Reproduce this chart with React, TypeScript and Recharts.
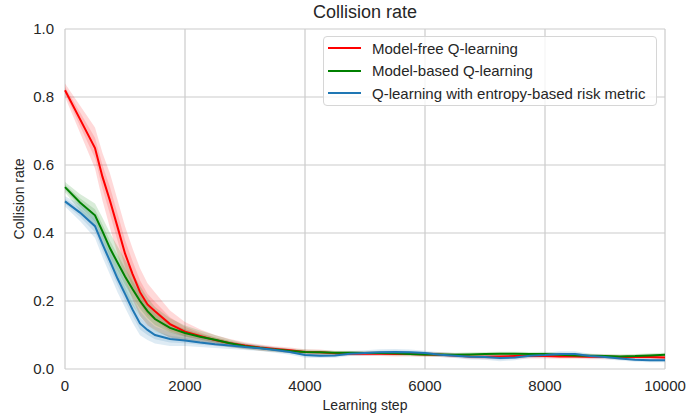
import { ComposedChart, Line, Area, XAxis, YAxis, CartesianGrid } from "recharts";

const FONT = '"Liberation Sans", Arial, sans-serif';
const TEXT = "#262626";

const steps = [
  0, 250, 500, 625, 750, 875, 1000, 1125, 1250, 1375, 1500, 1750, 2000, 2250,
  2500, 2750, 3000, 3250, 3500, 3750, 4000, 4250, 4500, 4750, 5000, 5250, 5500,
  5750, 6000, 6250, 6500, 6750, 7000, 7250, 7500, 7750, 8000, 8250, 8500, 8750,
  9000, 9250, 9500, 9750, 10000,
];

// mean curves
const modelFree = [
  0.82, 0.735, 0.65, 0.565, 0.495, 0.418, 0.34, 0.28, 0.226, 0.19, 0.17, 0.132,
  0.11, 0.097, 0.085, 0.076, 0.069, 0.063, 0.059, 0.055, 0.05, 0.049, 0.046,
  0.045, 0.045, 0.045, 0.044, 0.044, 0.043, 0.042, 0.04, 0.037, 0.036, 0.037,
  0.038, 0.038, 0.038, 0.037, 0.037, 0.036, 0.036, 0.035, 0.035, 0.035, 0.034,
];
const modelBased = [
  0.535, 0.49, 0.452, 0.405, 0.355, 0.313, 0.272, 0.235, 0.2, 0.17, 0.147,
  0.121, 0.106, 0.095, 0.086, 0.076, 0.067, 0.062, 0.057, 0.053, 0.05, 0.049,
  0.048, 0.048, 0.047, 0.047, 0.046, 0.044, 0.043, 0.043, 0.042, 0.043, 0.044,
  0.045, 0.045, 0.044, 0.044, 0.042, 0.04, 0.039, 0.038, 0.037, 0.038, 0.04,
  0.042,
];
const entropyRisk = [
  0.493, 0.46, 0.42, 0.367, 0.317, 0.266, 0.221, 0.175, 0.134, 0.115, 0.1,
  0.088, 0.084, 0.078, 0.073, 0.069, 0.065, 0.061, 0.056, 0.05, 0.041, 0.039,
  0.04, 0.045, 0.047, 0.049, 0.05, 0.049, 0.047, 0.042, 0.039, 0.036, 0.035,
  0.032, 0.034, 0.039, 0.041, 0.044, 0.044, 0.038, 0.035, 0.031, 0.027, 0.026,
  0.026,
];

// half-width of the shaded band
const modelFreeSpread = [
  0.02, 0.04, 0.06, 0.07, 0.08, 0.08, 0.08, 0.075, 0.07, 0.062, 0.055, 0.04,
  0.028, 0.02, 0.015, 0.012, 0.01, 0.009, 0.008, 0.008, 0.008, 0.008, 0.007,
  0.007, 0.007, 0.007, 0.007, 0.007, 0.007, 0.007, 0.007, 0.007, 0.007, 0.007,
  0.007, 0.007, 0.007, 0.007, 0.007, 0.007, 0.007, 0.007, 0.007, 0.007, 0.007,
];
const modelBasedSpread = [
  0.015, 0.025, 0.035, 0.04, 0.045, 0.048, 0.05, 0.048, 0.045, 0.04, 0.035,
  0.028, 0.022, 0.018, 0.014, 0.011, 0.009, 0.008, 0.007, 0.007, 0.007, 0.007,
  0.006, 0.006, 0.006, 0.006, 0.006, 0.006, 0.006, 0.006, 0.006, 0.006, 0.006,
  0.006, 0.006, 0.006, 0.007, 0.006, 0.006, 0.006, 0.006, 0.006, 0.006, 0.006,
  0.006,
];
const entropyRiskSpread = [
  0.015, 0.025, 0.035, 0.038, 0.04, 0.04, 0.04, 0.038, 0.035, 0.03, 0.025,
  0.02, 0.016, 0.013, 0.011, 0.01, 0.009, 0.008, 0.008, 0.008, 0.008, 0.007,
  0.007, 0.007, 0.008, 0.009, 0.009, 0.008, 0.007, 0.007, 0.007, 0.008, 0.008,
  0.009, 0.008, 0.007, 0.007, 0.008, 0.008, 0.007, 0.006, 0.006, 0.006, 0.006,
  0.006,
];

const series = [
  { key: "mf", name: "Model-free Q-learning", color: "#ff0000", mean: modelFree, spread: modelFreeSpread },
  { key: "mb", name: "Model-based Q-learning", color: "#008000", mean: modelBased, spread: modelBasedSpread },
  { key: "er", name: "Q-learning with entropy-based risk metric", color: "#1f77b4", mean: entropyRisk, spread: entropyRiskSpread },
];

const xTicks = [0, 2000, 4000, 6000, 8000, 10000];
const yTicks = [0, 0.2, 0.4, 0.6, 0.8, 1.0];

const data = steps.map((step, i) => {
  const row: Record<string, any> = { step };
  series.forEach((s) => {
    const m = s.mean[i];
    const d = s.spread[i];
    row[s.key] = m;
    row[s.key + "Outer"] = [m - d, m + d];
    row[s.key + "Inner"] = [m - d / 2, m + d / 2];
  });
  return row;
});

export default function App() {
  return (
    <div style={{ position: "absolute", left: 0, top: 0, width: 686, height: 420, background: "#fff", fontFamily: FONT }}>
      <ComposedChart width={686} height={420} data={data} margin={{ top: 29, right: 21, bottom: 21, left: 0 }}>
        <CartesianGrid stroke="#cccccc" strokeWidth={1.2} />
        <XAxis
          dataKey="step"
          type="number"
          domain={[0, 10000]}
          ticks={xTicks}
          axisLine={false}
          tickLine={false}
          tickMargin={5}
          height={30}
          tick={{ fill: TEXT, fontSize: 15, fontFamily: FONT }}
        />
        <YAxis
          type="number"
          domain={[0, 1]}
          ticks={yTicks}
          tickFormatter={(v: number) => v.toFixed(1)}
          axisLine={false}
          tickLine={false}
          tickMargin={5}
          width={65}
          tick={{ fill: TEXT, fontSize: 15, fontFamily: FONT }}
        />
        {series.flatMap((s) => [
          <Area
            key={s.key + "o"}
            dataKey={s.key + "Outer"}
            type="linear"
            stroke="none"
            fill={s.color}
            fillOpacity={0.15}
            isAnimationActive={false}
          />,
          <Area
            key={s.key + "i"}
            dataKey={s.key + "Inner"}
            type="linear"
            stroke="none"
            fill={s.color}
            fillOpacity={0.15}
            isAnimationActive={false}
          />,
          <Line
            key={s.key}
            dataKey={s.key}
            type="linear"
            stroke={s.color}
            strokeWidth={2}
            dot={false}
            isAnimationActive={false}
          />,
        ])}
      </ComposedChart>

      <div style={{ position: "absolute", left: 0, width: 730, top: 0, textAlign: "center", fontSize: 18, color: TEXT, lineHeight: "24px" }}>
        Collision rate
      </div>
      <div style={{ position: "absolute", left: 0, width: 730, top: 396, textAlign: "center", fontSize: 14, color: TEXT, lineHeight: "18px" }}>
        Learning step
      </div>
      <div
        style={{
          position: "absolute",
          left: 19,
          top: 199,
          transform: "translate(-50%, -50%) rotate(-90deg)",
          whiteSpace: "nowrap",
          fontSize: 14,
          color: TEXT,
        }}
      >
        Collision rate
      </div>

      <div
        style={{
          position: "absolute",
          left: 323,
          top: 36,
          width: 332,
          height: 68,
          border: "1px solid #d6d6d6",
          borderRadius: 4,
          background: "rgba(255,255,255,0.8)",
        }}
      >
        {series.map((s, i) => (
          <div key={s.key} style={{ position: "absolute", left: 4, top: 11 + i * 22.5 - 10, height: 20, display: "flex", alignItems: "center" }}>
            <div style={{ width: 33, height: 2, background: s.color }} />
            <span style={{ marginLeft: 11, fontSize: 15, color: TEXT, whiteSpace: "nowrap" }}>{s.name}</span>
          </div>
        ))}
      </div>
    </div>
  );
}
